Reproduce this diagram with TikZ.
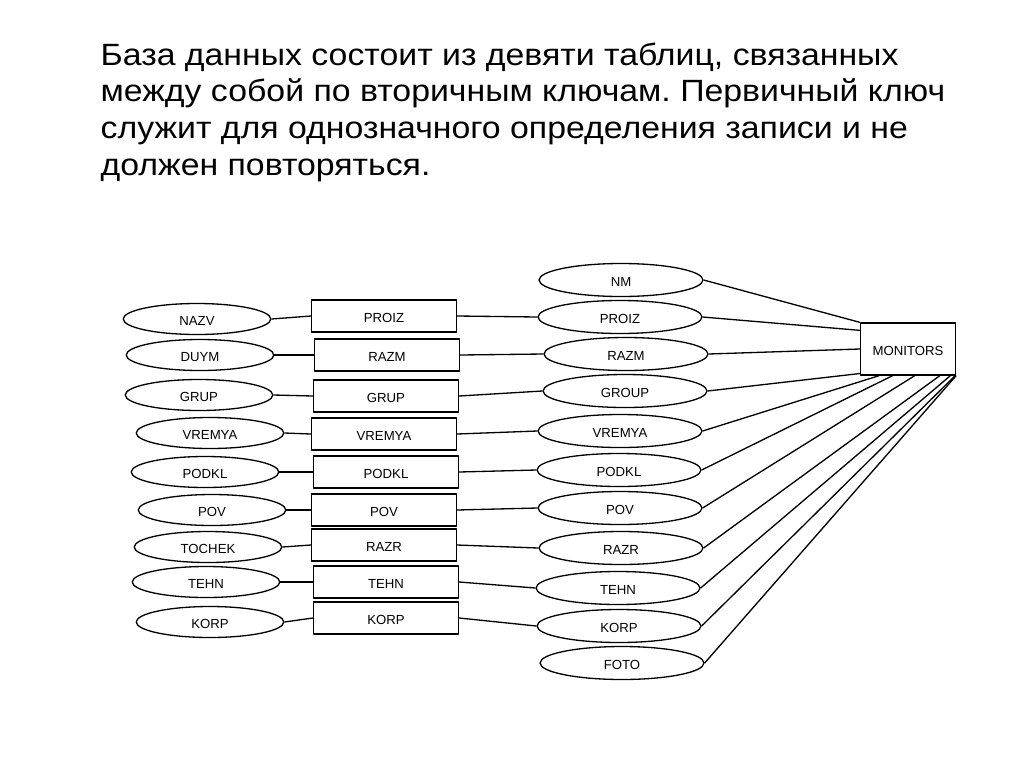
\documentclass[tikz,border=0pt]{standalone}
\usepackage{fontspec}
\setmainfont{Liberation Sans}
\newfontfamily\headfont{Liberation Sans}[FakeStretch=1.1]
\usepackage{tikz}
\usetikzlibrary{shapes.geometric,calc}
\tikzset{attr/.style={draw,ellipse,inner sep=0pt,minimum width=2.95cm,minimum height=0.62cm,text height=1.45ex,text depth=0pt},
  rattr/.style={attr,minimum width=3.28cm,minimum height=0.66cm},
  tbl/.style={draw,rectangle,inner sep=0pt,minimum width=2.9cm,minimum height=0.64cm,text height=1.45ex,text depth=0pt}}

\begin{document}
\begin{tikzpicture}[x=0.02cm,y=-0.02cm,line width=0.75pt,line join=round,font=\fontsize{7.5}{9}\selectfont]
\useasboundingbox (0,0) rectangle (1024,768);
% --- heading
\node[anchor=north west,inner sep=0pt,align=left,font=\headfont\fontsize{17.5}{20.9}\selectfont\frenchspacing] (head) at (100,42)
  {База данных состоит из девяти таблиц, связанных\\между собой по вторичным ключам. Первичный ключ\\служит для однозначного определения записи и не\\должен повторяться.};
% --- left column: attributes
\node[attr] (nazv) at (197,319) {NAZV};
\node[attr] (duym) at (200,355) {DUYM};
\node[attr] (grup) at (199,395) {GRUP};
\node[attr] (vremya) at (210,433) {VREMYA};
\node[attr] (podkl) at (205,472) {PODKL};
\node[attr] (pov) at (212,510) {POV};
\node[attr] (tochek) at (208,547) {TOCHEK};
\node[attr] (tehn) at (206,582) {TEHN};
\node[attr] (korp) at (210,622) {KORP};
% --- middle column: tables
\node[tbl] (tproiz) at (384,316) {PROIZ};
\node[tbl] (trazm) at (387,355) {RAZM};
\node[tbl] (tgrup) at (386,396) {GRUP};
\node[tbl] (tvremya) at (384,434) {VREMYA};
\node[tbl] (tpodkl) at (386,472) {PODKL};
\node[tbl] (tpov) at (384,510) {POV};
\node[tbl] (trazr) at (384,545) {RAZR};
\node[tbl] (ttehn) at (386,582) {TEHN};
\node[tbl] (tkorp) at (386,618) {KORP};
% --- right column: fields of MONITORS
\node[rattr] (mnm) at (621,280) {NM};
\node[rattr] (mproiz) at (620,317) {PROIZ};
\node[rattr] (mrazm) at (626,354) {RAZM};
\node[rattr] (mgroup) at (625,391) {GROUP};
\node[rattr] (mvremya) at (620,431) {VREMYA};
\node[rattr] (mpodkl) at (619,470) {PODKL};
\node[rattr] (mpov) at (620,508) {POV};
\node[rattr] (mrazr) at (621,548) {RAZR};
\node[rattr] (mtehn) at (618,588) {TEHN};
\node[rattr] (mkorp) at (619,626) {KORP};
\node[rattr] (mfoto) at (622,663) {FOTO};
\node[tbl,minimum width=1.9cm,minimum height=1.04cm] (mon) at (908,349) {MONITORS};
% --- attribute to table
\draw (nazv.east) -- (tproiz.west); \draw (duym.east) -- (trazm.west); \draw (grup.east) -- (tgrup.west);
\draw (vremya.east) -- (tvremya.west); \draw (podkl.east) -- (tpodkl.west); \draw (pov.east) -- (tpov.west);
\draw (tochek.east) -- (trazr.west); \draw (tehn.east) -- (ttehn.west); \draw (korp.east) -- (tkorp.west);
% --- table to field
\draw (tproiz.east) -- (mproiz.west); \draw (trazm.east) -- (mrazm.west); \draw (tgrup.east) -- (mgroup.west);
\draw (tvremya.east) -- (mvremya.west); \draw (tpodkl.east) -- (mpodkl.west); \draw (tpov.east) -- (mpov.west);
\draw (trazr.east) -- (mrazr.west); \draw (ttehn.east) -- (mtehn.west); \draw (tkorp.east) -- (mkorp.west);
% --- field to MONITORS
\draw (mnm.east) -- (mon.north west);
\draw (mproiz.east) -- ($(mon.north west)!0.15!(mon.south west)$);
\draw (mrazm.east) -- (mon.west);
\draw (mgroup.east) -- ($(mon.north west)!0.96!(mon.south west)$);
\draw (mvremya.east) -- ($(mon.south west)!0.2!(mon.south east)$);
\draw (mpodkl.east) -- ($(mon.south west)!0.34!(mon.south east)$);
\draw (mpov.east) -- ($(mon.south west)!0.57!(mon.south east)$);
\draw (mrazr.east) -- ($(mon.south west)!0.83!(mon.south east)$);
\draw (mtehn.east) -- ($(mon.south west)!0.94!(mon.south east)$);
\draw (mkorp.east) -- ($(mon.south west)!0.99!(mon.south east)$);
\draw (mfoto.east) -- (mon.south east);
\end{tikzpicture}
\end{document}
